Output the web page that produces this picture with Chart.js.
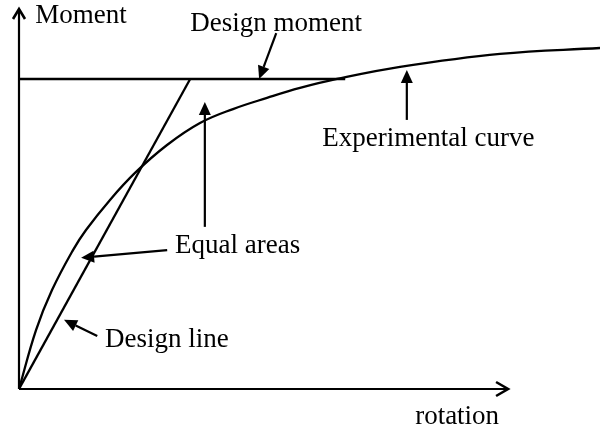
<!DOCTYPE html>
<html>
<head>
<meta charset="utf-8">
<script src="https://cdn.jsdelivr.net/npm/chart.js@4/dist/chart.umd.min.js"></script>
<style>
  html, body { margin: 0; padding: 0; background: #fff; }
  #wrap { width: 600px; height: 432px; position: relative; }
</style>
</head>
<body>
<div id="wrap"><canvas id="c"></canvas></div>
<script>
// Experimental moment-rotation curve
const expRotation = [0, 0.348, 0.675, 1.104, 1.370, 1.861, 2.372, 3.027, 3.701, 4.376, 5.072, 5.746, 6.503, 7.791, 9.836, 11.881];
const expMoment   = [0, 0.190, 0.319, 0.448, 0.513, 0.610, 0.697, 0.787, 0.858, 0.903, 0.939, 0.971, 1.0, 1.039, 1.081, 1.100];

// Bilinear design idealisation
const designMoment = 1.0;
const designRotation = 3.5;     // where the design line meets the design moment
const momentLineEnd = 6.67;     // extent of the horizontal design-moment line

// Axis extents
const xAxisEnd = 10;
const xMax = 11.88;
const yMax = 1.229;

// Labels: [text, x, y] (baseline, data units)
const labels = [
  ['Moment', 0.33, 1.181],
  ['Design moment', 3.50, 1.155],
  ['Experimental curve', 6.20, 0.784],
  ['Equal areas', 3.19, 0.439],
  ['Design line', 1.76, 0.135],
  ['rotation', 8.10, -0.113]
];

// Pointer arrows: [tailX, tailY, tipX, tipY]
const pointers = [
  [5.26, 1.148, 4.91, 1.0],
  [7.93, 0.868, 7.93, 1.029],
  [3.80, 0.523, 3.80, 0.926],
  [3.03, 0.448, 1.27, 0.423],
  [1.60, 0.171, 0.92, 0.223]
];

const toPts = (xs, ys) => xs.map((x, i) => ({ x, y: ys[i] }));

const sketch = {
  id: 'sketch',
  afterDatasetsDraw(chart) {
    const { ctx, scales: { x, y } } = chart;
    const px = v => x.getPixelForValue(v);
    const py = v => y.getPixelForValue(v);
    ctx.save();
    ctx.strokeStyle = '#000';
    ctx.fillStyle = '#000';

    // axes
    const ox = px(0), oy = py(0);
    const xt = px(xAxisEnd), yt = py(yMax);
    ctx.lineWidth = 2.2;
    ctx.lineCap = 'butt';
    ctx.beginPath();
    ctx.moveTo(ox, oy); ctx.lineTo(xt - 1, oy);
    ctx.moveTo(ox, oy); ctx.lineTo(ox, yt + 1);
    ctx.stroke();
    // chevron heads
    ctx.lineWidth = 2.6;
    ctx.lineJoin = 'miter';
    ctx.beginPath();
    ctx.moveTo(xt - 12, oy - 7); ctx.lineTo(xt, oy); ctx.lineTo(xt - 12, oy + 7);
    ctx.moveTo(ox - 6, yt + 11); ctx.lineTo(ox, yt + 1); ctx.lineTo(ox + 6, yt + 11);
    ctx.stroke();

    // pointer arrows with filled heads
    ctx.lineWidth = 2.2;
    pointers.forEach(([x0, y0, x1, y1]) => {
      const ax = px(x0), ay = py(y0), bx = px(x1), by = py(y1);
      const ang = Math.atan2(by - ay, bx - ax);
      const len = 13, half = 6;
      const baseX = bx - len * Math.cos(ang), baseY = by - len * Math.sin(ang);
      ctx.beginPath();
      ctx.moveTo(ax, ay); ctx.lineTo(baseX, baseY);
      ctx.stroke();
      ctx.beginPath();
      ctx.moveTo(bx, by);
      ctx.lineTo(baseX + half * Math.sin(ang), baseY - half * Math.cos(ang));
      ctx.lineTo(baseX - half * Math.sin(ang), baseY + half * Math.cos(ang));
      ctx.closePath();
      ctx.fill();
    });

    // text
    ctx.font = '27px "Liberation Serif", "Times New Roman", serif';
    ctx.textAlign = 'left';
    ctx.textBaseline = 'alphabetic';
    labels.forEach(([t, lx, ly]) => ctx.fillText(t, px(lx), py(ly)));
    ctx.restore();
  }
};

new Chart(document.getElementById('c'), {
  type: 'scatter',
  data: {
    datasets: [
      {
        label: 'Experimental curve',
        data: toPts(expRotation, expMoment),
        showLine: true,
        borderColor: '#000',
        borderWidth: 2.3,
        pointRadius: 0,
        tension: 0.4
      },
      {
        label: 'Design line',
        data: [{ x: 0, y: 0 }, { x: designRotation, y: designMoment }],
        showLine: true,
        borderColor: '#000',
        borderWidth: 2.3,
        pointRadius: 0,
        tension: 0
      },
      {
        label: 'Design moment',
        data: [{ x: 0, y: designMoment }, { x: momentLineEnd, y: designMoment }],
        showLine: true,
        borderColor: '#000',
        borderWidth: 2.3,
        pointRadius: 0,
        tension: 0
      }
    ]
  },
  options: {
    responsive: true,
    maintainAspectRatio: false,
    animation: false,
    layout: { padding: { left: 19, right: 0, top: 8, bottom: 43 } },
    plugins: { legend: { display: false }, tooltip: { enabled: false } },
    scales: {
      x: { type: 'linear', min: 0, max: xMax, display: false },
      y: { type: 'linear', min: 0, max: yMax, display: false }
    }
  },
  plugins: [sketch]
});
</script>
</body>
</html>
